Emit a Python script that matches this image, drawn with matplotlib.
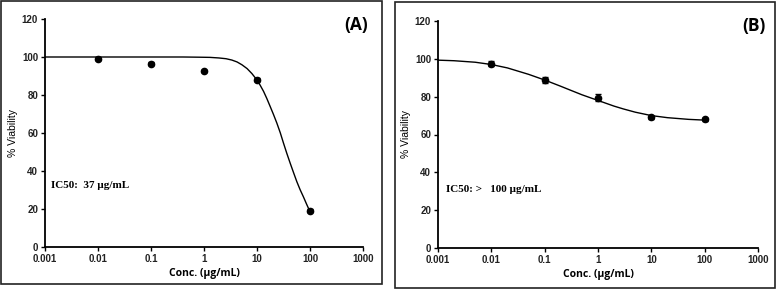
import numpy as np
import matplotlib
matplotlib.use("Agg")
from matplotlib import pyplot as plt
from matplotlib.patches import Rectangle

# measured points (conc in ug/mL, % viability, error)
conc = [0.01, 0.1, 1, 10, 100]
via_A = [99.0, 96.5, 92.5, 88.0, 19.0]
err_A = [0.8, 0.8, 0.6, 0.8, 0.8]
via_B = [97.5, 88.8, 79.5, 69.0, 68.0]
err_B = [1.5, 1.5, 2.0, 0.9, 0.9]

# fitted curves
fit_x_A = [0.001, 0.01, 0.1, 0.4, 0.79, 1.3, 1.9, 2.6, 3.35, 4.2, 5.2, 6.5, 8.0, 10, 11.5, 13.3, 15.3, 17.7, 20.5, 23.7, 27.5, 31.6, 36.5, 42.3, 49, 56.4, 65, 75.4, 87, 100]
fit_y_A = [100, 100, 100, 100, 99.9, 99.8, 99.5, 99.1, 98.4, 97.4, 95.9, 93.9, 91.3, 87.9, 85.1, 81.9, 78.2, 74.0, 69.7, 65.2, 60.1, 54.7, 49.3, 44.1, 39.1, 34.4, 30.2, 26.3, 22.3, 18.6]
fit_x_B = [0.001, 0.002, 0.005, 0.01, 0.02, 0.05, 0.1, 0.2, 0.3, 0.5, 1, 2, 3, 5, 10, 20, 50, 100]
fit_y_B = [99.3, 99.0, 98.2, 97.0, 95.2, 91.8, 88.8, 85.5, 83.5, 81.0, 78.0, 75.0, 73.5, 71.8, 70.0, 68.9, 68.0, 67.6]

xticks = [0.001, 0.01, 0.1, 1, 10, 100, 1000]
xlabels = ["0.001", "0.01", "0.1", "1", "10", "100", "1000"]
yticks = [0, 20, 40, 60, 80, 100, 120]

fig = plt.figure(figsize=(7.77, 2.9), dpi=100)
W, H = 777.0, 290.0

# panel borders
for (x0, y0, x1, y1) in [(1, 1, 382, 284), (395, 2, 775, 288)]:
    fig.patches.append(Rectangle((x0 / W, 1 - y1 / H), (x1 - x0) / W, (y1 - y0) / H,
                                 transform=fig.transFigure, fill=False,
                                 edgecolor="#222222", linewidth=1.2))


def panel(rect, fx, fy, v, e, tag, tagpos, ic50txt, txtpos):
    ax = fig.add_axes(rect)
    ax.set_xscale("log")
    ax.plot(fx, fy, "k-", lw=1.0)
    ax.errorbar(conc, v, yerr=e, fmt="o", color="k", ms=4.5, capsize=2.5, elinewidth=0.9)
    ax.set_xlim(0.001, 1000)
    ax.set_ylim(0, 120)
    ax.set_xticks(xticks)
    ax.set_xticklabels(xlabels)
    ax.minorticks_off()
    ax.set_yticks(yticks)
    ax.spines["top"].set_visible(False)
    ax.spines["right"].set_visible(False)
    ax.spines["left"].set_linewidth(1.3)
    ax.spines["bottom"].set_linewidth(1.3)
    ax.tick_params(axis="both", direction="out", length=3, width=1.0, labelsize=7, pad=2)
    for lb in ax.get_xticklabels() + ax.get_yticklabels():
        lb.set_fontweight("bold")
        lb.set_family("Liberation Sans")
        lb.set_color("#222222")
    ax.set_ylabel("% Viability", family="Liberation Sans", fontsize=7.5, labelpad=3)
    ax.set_xlabel("Conc. (µg/mL)", family="Open Sans", fontweight="bold", fontsize=7.5, labelpad=3)
    ax.text(tagpos[0], tagpos[1], tag, transform=ax.transAxes, ha="right", va="center",
            fontsize=12.5, fontweight="bold", family="Open Sans")
    ax.text(txtpos[0], txtpos[1], ic50txt, transform=ax.transData, ha="left", va="center",
            fontsize=8, family="Liberation Serif", fontweight="bold")
    return ax


panel([45 / W, 1 - 247 / H, 318 / W, 228 / H], fit_x_A, fit_y_A, via_A, err_A,
      "(A)", (1.016, 0.975), "IC50:  37 µg/mL", (0.0013, 32.5))
panel([438 / W, 1 - 248 / H, 320 / W, 227 / H], fit_x_B, fit_y_B, via_B, err_B,
      "(B)", (1.025, 0.98), "IC50: >   100 µg/mL", (0.0014, 31))

plt.savefig("out.png", dpi=100)
